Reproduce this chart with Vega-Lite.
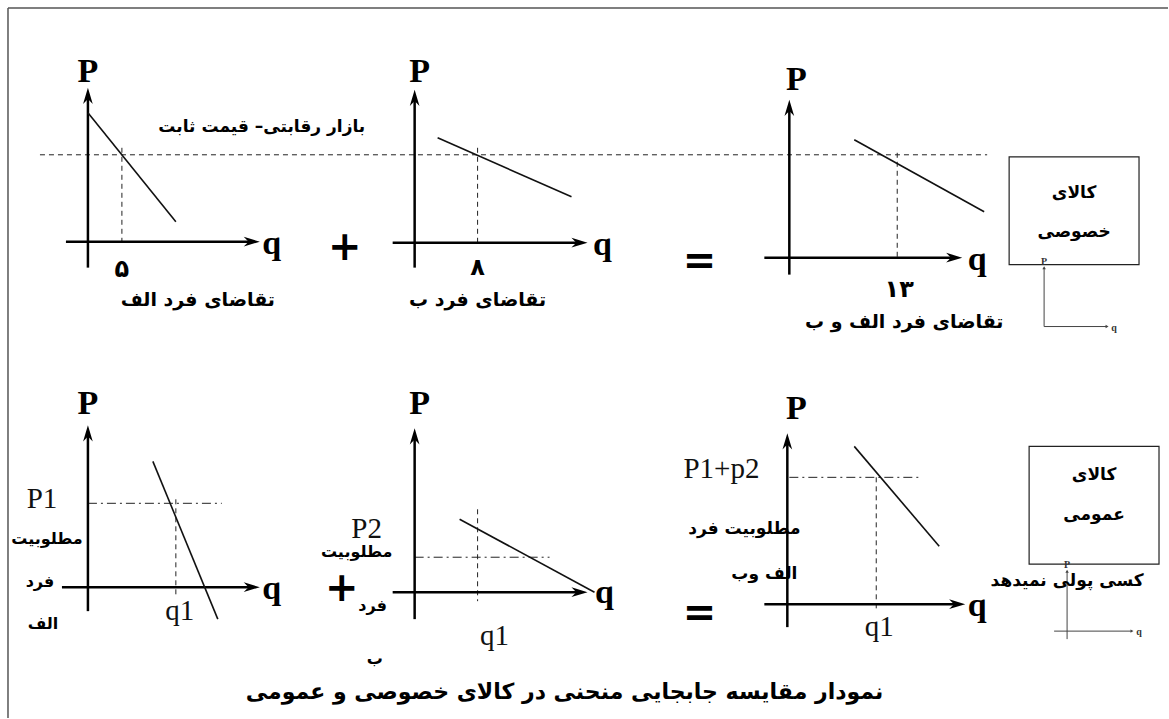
{
  "$schema": "https://vega.github.io/schema/vega-lite/v6.json",
  "width": 1169,
  "height": 719,
  "padding": 0,
  "autosize": {"type": "fit", "contains": "padding"},
  "background": "white",
  "config": {"view": {"stroke": null}},
  "datasets": {
    "frame": [
      {"x": 8, "y": 8, "x2": 1169, "y2": 8},
      {"x": 8, "y": 8, "x2": 8, "y2": 719}
    ],
    "axes": [
      {"x": 88, "y": 268, "x2": 88, "y2": 94},
      {"x": 66, "y": 242, "x2": 252, "y2": 242},
      {"x": 415, "y": 268, "x2": 415, "y2": 96},
      {"x": 393, "y": 243, "x2": 580, "y2": 243},
      {"x": 790, "y": 275, "x2": 790, "y2": 106},
      {"x": 765, "y": 258, "x2": 955, "y2": 258},
      {"x": 88, "y": 612, "x2": 88, "y2": 432},
      {"x": 62, "y": 588, "x2": 252, "y2": 588},
      {"x": 415, "y": 620, "x2": 415, "y2": 435},
      {"x": 393, "y": 593, "x2": 580, "y2": 593},
      {"x": 788, "y": 628, "x2": 788, "y2": 440},
      {"x": 765, "y": 605, "x2": 958, "y2": 605}
    ],
    "arrowsUp": [
      {"x": 88, "y": 96}, {"x": 415, "y": 98}, {"x": 790, "y": 108},
      {"x": 88, "y": 434}, {"x": 415, "y": 437}, {"x": 788, "y": 442}
    ],
    "arrowsRight": [
      {"x": 252, "y": 242}, {"x": 580, "y": 243}, {"x": 955, "y": 258},
      {"x": 252, "y": 588}, {"x": 580, "y": 593}, {"x": 958, "y": 605}
    ],
    "curves": [
      {"x": 88, "y": 113, "x2": 176, "y2": 222},
      {"x": 438, "y": 138, "x2": 572, "y2": 197},
      {"x": 855, "y": 140, "x2": 985, "y2": 212},
      {"x": 153, "y": 462, "x2": 218, "y2": 620},
      {"x": 460, "y": 520, "x2": 595, "y2": 593},
      {"x": 855, "y": 447, "x2": 940, "y2": 547}
    ],
    "dashed": [
      {"x": 40, "y": 155, "x2": 988, "y2": 155},
      {"x": 122, "y": 148, "x2": 122, "y2": 242},
      {"x": 478, "y": 148, "x2": 478, "y2": 243},
      {"x": 898, "y": 153, "x2": 898, "y2": 258},
      {"x": 176, "y": 500, "x2": 176, "y2": 598},
      {"x": 478, "y": 510, "x2": 478, "y2": 602},
      {"x": 877, "y": 478, "x2": 877, "y2": 612}
    ],
    "dashdot": [
      {"x": 88, "y": 504, "x2": 222, "y2": 504},
      {"x": 415, "y": 558, "x2": 550, "y2": 558},
      {"x": 790, "y": 478, "x2": 922, "y2": 478}
    ],
    "boxes": [
      {"x": 1010, "y": 157, "x2": 1140, "y2": 265},
      {"x": 1030, "y": 447, "x2": 1160, "y2": 565}
    ],
    "smallAxes": [
      {"x": 1045, "y": 327, "x2": 1045, "y2": 268},
      {"x": 1045, "y": 327, "x2": 1108, "y2": 327},
      {"x": 1068, "y": 640, "x2": 1068, "y2": 572},
      {"x": 1055, "y": 632, "x2": 1133, "y2": 632}
    ],
    "smallArrowsUp": [{"x": 1045, "y": 268}, {"x": 1068, "y": 572}],
    "smallArrowsRight": [{"x": 1108, "y": 327}, {"x": 1133, "y": 632}],
    "smallLabels": [
      {"x": 1045, "y": 262, "t": "P"}, {"x": 1115, "y": 328, "t": "q"},
      {"x": 1068, "y": 566, "t": "P"}, {"x": 1140, "y": 633, "t": "q"}
    ],
    "pq": [
      {"x": 88, "y": 72, "t": "P"}, {"x": 420, "y": 72, "t": "P"}, {"x": 797, "y": 80, "t": "P"},
      {"x": 88, "y": 405, "t": "P"}, {"x": 420, "y": 405, "t": "P"}, {"x": 797, "y": 410, "t": "P"},
      {"x": 272, "y": 244, "t": "q"}, {"x": 603, "y": 245, "t": "q"}, {"x": 978, "y": 260, "t": "q"},
      {"x": 272, "y": 590, "t": "q"}, {"x": 605, "y": 594, "t": "q"}, {"x": 978, "y": 607, "t": "q"}
    ],
    "sym": [
      {"x": 345, "y": 248, "t": "+"}, {"x": 700, "y": 262, "t": "="},
      {"x": 342, "y": 590, "t": "+"}, {"x": 700, "y": 615, "t": "="}
    ],
    "serifReg": [
      {"x": 42, "y": 500, "t": "P1"}, {"x": 180, "y": 612, "t": "q1"},
      {"x": 367, "y": 530, "t": "P2"}, {"x": 495, "y": 637, "t": "q1"},
      {"x": 722, "y": 470, "t": "P1+p2"}, {"x": 880, "y": 628, "t": "q1"}
    ],
    "faDigits": [
      {"x": 122, "y": 270, "t": "۵"},
      {"x": 478, "y": 268, "t": "۸"},
      {"x": 900, "y": 290, "t": "۱۳"}
    ],
    "faLarge": [
      {"x": 198, "y": 300, "t": "تقاضای فرد الف"},
      {"x": 478, "y": 300, "t": "تقاضای فرد ب"},
      {"x": 905, "y": 322, "t": "تقاضای فرد الف و ب"}
    ],
    "faTitle": [
      {"x": 565, "y": 693, "t": "نمودار مقایسه جابجایی منحنی در کالای خصوصی و عمومی"}
    ],
    "faMed": [
      {"x": 262, "y": 127, "t": "بازار رقابتی– قیمت ثابت"},
      {"x": 1075, "y": 193, "t": "کالای"},
      {"x": 1075, "y": 232, "t": "خصوصی"},
      {"x": 1095, "y": 476, "t": "کالای"},
      {"x": 1095, "y": 516, "t": "عمومی"},
      {"x": 745, "y": 530, "t": "مطلوبیت فرد"},
      {"x": 765, "y": 575, "t": "الف وب"},
      {"x": 1068, "y": 582, "t": "کسی پولی نمیدهد"}
    ],
    "faSmall": [
      {"x": 47, "y": 540, "t": "مطلوبیت"},
      {"x": 40, "y": 583, "t": "فرد"},
      {"x": 43, "y": 625, "t": "الف"},
      {"x": 357, "y": 553, "t": "مطلوبیت"},
      {"x": 373, "y": 607, "t": "فرد"},
      {"x": 375, "y": 660, "t": "ب"}
    ]
  },
  "encoding": {
    "x": {"field": "x", "type": "quantitative", "scale": {"domain": [0, 1169]}, "axis": null},
    "y": {"field": "y", "type": "quantitative", "scale": {"domain": [0, 719], "reverse": true}, "axis": null}
  },
  "layer": [
    {"data": {"name": "frame"}, "mark": {"type": "rule", "stroke": "#555555", "strokeWidth": 1.5},
     "encoding": {"x2": {"field": "x2"}, "y2": {"field": "y2"}}},
    {"data": {"name": "boxes"}, "mark": {"type": "rect", "fill": null, "stroke": "#222222", "strokeWidth": 1.2},
     "encoding": {"x2": {"field": "x2"}, "y2": {"field": "y2"}}},
    {"data": {"name": "dashed"}, "mark": {"type": "rule", "stroke": "#222222", "strokeWidth": 1, "strokeDash": [5, 4]},
     "encoding": {"x2": {"field": "x2"}, "y2": {"field": "y2"}}},
    {"data": {"name": "dashdot"}, "mark": {"type": "rule", "stroke": "#222222", "strokeWidth": 1, "strokeDash": [9, 4, 2, 4]},
     "encoding": {"x2": {"field": "x2"}, "y2": {"field": "y2"}}},
    {"data": {"name": "axes"}, "mark": {"type": "rule", "stroke": "#000000", "strokeWidth": 2.5},
     "encoding": {"x2": {"field": "x2"}, "y2": {"field": "y2"}}},
    {"data": {"name": "curves"}, "mark": {"type": "rule", "stroke": "#111111", "strokeWidth": 1.6},
     "encoding": {"x2": {"field": "x2"}, "y2": {"field": "y2"}}},
    {"data": {"name": "smallAxes"}, "mark": {"type": "rule", "stroke": "#444444", "strokeWidth": 1},
     "encoding": {"x2": {"field": "x2"}, "y2": {"field": "y2"}}},
    {"data": {"name": "arrowsUp"}, "mark": {"type": "point", "shape": "M-0.6,1 L0,-1 L0.6,1 L0,0.4 Z", "filled": true, "color": "#000000", "size": 260, "opacity": 1}},
    {"data": {"name": "arrowsRight"}, "mark": {"type": "point", "shape": "M-1,-0.6 L1,0 L-1,0.6 L-0.4,0 Z", "filled": true, "color": "#000000", "size": 260, "opacity": 1}},
    {"data": {"name": "smallArrowsUp"}, "mark": {"type": "point", "shape": "triangle-up", "filled": true, "color": "#444444", "size": 12, "opacity": 1}},
    {"data": {"name": "smallArrowsRight"}, "mark": {"type": "point", "shape": "triangle-right", "filled": true, "color": "#444444", "size": 12, "opacity": 1}},
    {"data": {"name": "smallLabels"}, "mark": {"type": "text", "font": "Liberation Serif", "fontWeight": "bold", "fontSize": 10, "color": "#333333", "baseline": "middle", "align": "center"},
     "encoding": {"text": {"field": "t"}}},
    {"data": {"name": "pq"}, "mark": {"type": "text", "font": "Liberation Serif", "fontWeight": "bold", "fontSize": 34, "color": "#000000", "baseline": "middle", "align": "center"},
     "encoding": {"text": {"field": "t"}}},
    {"data": {"name": "sym"}, "mark": {"type": "text", "font": "DejaVu Sans", "fontWeight": "bold", "fontSize": 40, "color": "#000000", "baseline": "middle", "align": "center"},
     "encoding": {"text": {"field": "t"}}},
    {"data": {"name": "serifReg"}, "mark": {"type": "text", "font": "Liberation Serif", "fontSize": 29, "color": "#111111", "baseline": "middle", "align": "center"},
     "encoding": {"text": {"field": "t"}}},
    {"data": {"name": "faDigits"}, "mark": {"type": "text", "font": "DejaVu Sans", "fontWeight": "bold", "fontSize": 24, "color": "#000000", "baseline": "middle", "align": "center"},
     "encoding": {"text": {"field": "t"}}},
    {"data": {"name": "faLarge"}, "mark": {"type": "text", "font": "DejaVu Sans", "fontWeight": "bold", "fontSize": 19, "color": "#000000", "baseline": "middle", "align": "center"},
     "encoding": {"text": {"field": "t"}}},
    {"data": {"name": "faTitle"}, "mark": {"type": "text", "font": "DejaVu Sans", "fontWeight": "bold", "fontSize": 22, "color": "#000000", "baseline": "middle", "align": "center"},
     "encoding": {"text": {"field": "t"}}},
    {"data": {"name": "faMed"}, "mark": {"type": "text", "font": "DejaVu Sans", "fontWeight": "bold", "fontSize": 17, "color": "#000000", "baseline": "middle", "align": "center"},
     "encoding": {"text": {"field": "t"}}},
    {"data": {"name": "faSmall"}, "mark": {"type": "text", "font": "DejaVu Sans", "fontWeight": "bold", "fontSize": 16, "color": "#000000", "baseline": "middle", "align": "center"},
     "encoding": {"text": {"field": "t"}}}
  ]
}
